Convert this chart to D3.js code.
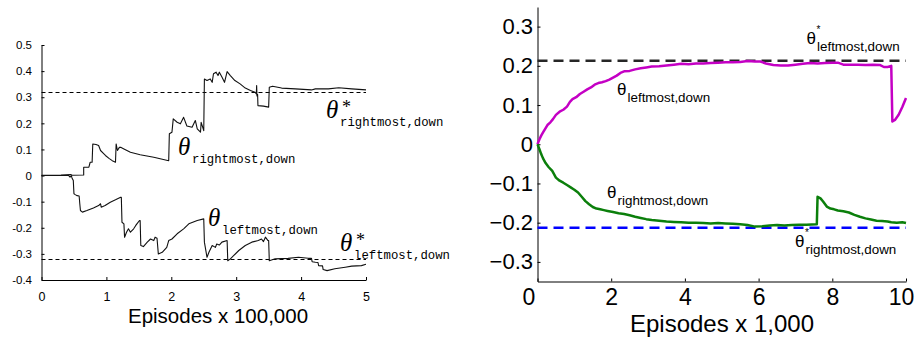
<!DOCTYPE html>
<html>
<head>
<meta charset="utf-8">
<script src="https://cdn.jsdelivr.net/npm/d3@7"></script>
<style>
  html, body { margin: 0; padding: 0; background: #fff; }
  svg { display: block; }
</style>
</head>
<body>
<script>
// ---- Left panel: parameter traces over 500,000 episodes (x in units of 100,000) ----
const leftXTicks = [0, 1, 2, 3, 4, 5];
const leftXLabels = ["0", "1", "2", "3", "4", "5"];
const leftYTicks = [-0.4, -0.3, -0.2, -0.1, 0, 0.1, 0.2, 0.3, 0.4, 0.5];
const leftYLabels = ["-0.4", "-0.3", "-0.2", "-0.1", "0", "0.1", "0.2", "0.3", "0.4", "0.5"];
const leftOptimal = [0.32, -0.32]; // theta* rightmost, theta* leftmost

const leftRightmost = [
  [0,0.001],[0.3,0.002],[0.45,0.004],[0.47,0.001],[0.65,0.002],[0.65,0.032],[0.73,0.032],
  [0.75,0.051],[0.78,0.051],[0.79,0.121],[0.84,0.119],[0.88,0.115],[0.91,0.096],[0.95,0.086],
  [0.985,0.077],[1.04,0.066],[1.09,0.057],[1.14,0.051],[1.15,0.121],[1.17,0.096],[1.2,0.108],
  [1.22,0.108],[1.27,0.102],[1.37,0.089],[1.52,0.08],[1.73,0.07],[1.96,0.057],[1.97,0.16],
  [2.01,0.166],[2.03,0.217],[2.09,0.204],[2.14,0.198],[2.19,0.223],[2.24,0.19],[2.32,0.185],
  [2.37,0.211],[2.4,0.179],[2.45,0.166],[2.46,0.204],[2.5,0.172],[2.51,0.37],[2.55,0.364],
  [2.6,0.37],[2.63,0.357],[2.65,0.39],[2.69,0.396],[2.72,0.383],[2.74,0.396],[2.78,0.377],
  [2.82,0.357],[2.86,0.398],[2.91,0.383],[2.98,0.364],[3.06,0.351],[3.14,0.335],[3.22,0.326],
  [3.29,0.319],[3.31,0.313],[3.315,0.345],[3.32,0.305],[3.33,0.31],[3.335,0.268],[3.42,0.266],
  [3.5,0.262],[3.51,0.338],[3.56,0.342],[3.7,0.335],[3.91,0.332],[4.16,0.328],[4.22,0.332],
  [4.42,0.332],[4.58,0.336],[4.78,0.332],[5.0,0.328]
];

const leftLeftmost = [
  [0,0],[0.42,0],[0.44,-0.006],[0.46,0],[0.47,-0.009],[0.49,-0.019],[0.5,-0.07],[0.52,-0.073],
  [0.55,-0.077],[0.58,-0.078],[0.59,-0.108],[0.6,-0.134],[0.63,-0.14],[0.7,-0.134],[0.8,-0.124],
  [0.88,-0.115],[0.91,-0.108],[0.92,-0.121],[0.98,-0.115],[1.06,-0.102],[1.14,-0.093],
  [1.22,-0.083],[1.23,-0.083],[1.24,-0.179],[1.27,-0.185],[1.28,-0.236],[1.31,-0.217],
  [1.34,-0.204],[1.37,-0.217],[1.42,-0.204],[1.45,-0.192],[1.47,-0.185],[1.51,-0.172],
  [1.52,-0.172],[1.53,-0.268],[1.57,-0.272],[1.63,-0.255],[1.68,-0.243],[1.73,-0.249],
  [1.75,-0.236],[1.78,-0.24],[1.8,-0.3],[1.86,-0.294],[1.93,-0.275],[1.96,-0.249],[2.01,-0.243],
  [2.09,-0.223],[2.19,-0.204],[2.27,-0.185],[2.4,-0.172],[2.5,-0.166],[2.51,-0.255],[2.55,-0.313],
  [2.58,-0.294],[2.63,-0.268],[2.68,-0.275],[2.7,-0.262],[2.74,-0.266],[2.78,-0.255],[2.86,-0.249],
  [2.87,-0.326],[2.91,-0.319],[2.96,-0.307],[3.04,-0.287],[3.14,-0.268],[3.24,-0.255],[3.34,-0.249],
  [3.39,-0.243],[3.42,-0.253],[3.45,-0.236],[3.49,-0.249],[3.5,-0.249],[3.51,-0.326],[3.6,-0.319],
  [3.8,-0.317],[3.96,-0.313],[4.11,-0.317],[4.16,-0.317],[4.17,-0.33],[4.22,-0.332],[4.26,-0.333],
  [4.27,-0.345],[4.33,-0.346],[4.34,-0.36],[4.4,-0.364],[4.52,-0.357],[4.68,-0.351],[4.78,-0.347],
  [4.93,-0.345],[5.0,-0.34]
];

// ---- Right panel: parameter traces over 10,000 episodes (x in units of 1,000) ----
const rightXTicks = [0, 2, 4, 6, 8, 10];
const rightXLabels = ["0", "2", "4", "6", "8", "10"];
const rightYTicks = [-0.3, -0.2, -0.1, 0, 0.1, 0.2, 0.3];
const rightYLabels = ["\u22120.3", "\u22120.2", "\u22120.1", "0", "0.1", "0.2", "0.3"];
const rightOptimal = [0.213, -0.213]; // theta* leftmost (black), theta* rightmost (blue)

const rightLeftmost = [
  [0,0],[0.05,0.012],[0.1,0.022],[0.15,0.03],[0.2,0.038],[0.27,0.049],[0.35,0.056],[0.42,0.064],
  [0.5,0.075],[0.6,0.083],[0.7,0.088],[0.8,0.096],[0.88,0.108],[0.95,0.115],[1.05,0.12],
  [1.15,0.128],[1.25,0.134],[1.35,0.14],[1.45,0.145],[1.55,0.152],[1.65,0.156],[1.75,0.158],
  [1.85,0.161],[1.95,0.165],[2.05,0.17],[2.15,0.175],[2.25,0.182],[2.35,0.186],[2.5,0.187],
  [2.65,0.191],[2.8,0.194],[2.95,0.196],[3.1,0.198],[3.3,0.199],[3.5,0.201],[3.7,0.203],
  [3.9,0.205],[4.1,0.204],[4.3,0.206],[4.5,0.206],[4.7,0.207],[4.9,0.208],[5.1,0.209],
  [5.3,0.209],[5.5,0.21],[5.7,0.212],[5.9,0.211],[6.05,0.211],[6.2,0.206],[6.4,0.202],
  [6.6,0.201],[6.8,0.201],[7.0,0.203],[7.2,0.205],[7.4,0.207],[7.6,0.206],[7.8,0.207],
  [8.0,0.208],[8.15,0.208],[8.3,0.203],[8.5,0.203],[8.7,0.203],[8.9,0.202],[9.1,0.203],
  [9.3,0.202],[9.4,0.197],[9.5,0.197],[9.6,0.2],[9.63,0.058],[9.7,0.062],[9.8,0.075],
  [9.9,0.095],[10,0.118]
];

const rightRightmost = [
  [0,0],[0.05,-0.012],[0.1,-0.025],[0.15,-0.036],[0.22,-0.048],[0.3,-0.058],[0.4,-0.068],
  [0.5,-0.085],[0.6,-0.093],[0.7,-0.098],[0.8,-0.104],[0.9,-0.11],[1.0,-0.116],[1.1,-0.123],
  [1.2,-0.134],[1.3,-0.145],[1.4,-0.153],[1.5,-0.16],[1.6,-0.164],[1.7,-0.166],[1.8,-0.168],
  [1.9,-0.17],[2.05,-0.173],[2.2,-0.176],[2.35,-0.178],[2.5,-0.181],[2.65,-0.185],[2.8,-0.188],
  [2.95,-0.191],[3.1,-0.193],[3.3,-0.195],[3.5,-0.197],[3.7,-0.198],[3.9,-0.199],[4.1,-0.2],
  [4.3,-0.2],[4.5,-0.201],[4.7,-0.202],[4.9,-0.201],[5.1,-0.202],[5.3,-0.203],[5.5,-0.204],
  [5.7,-0.206],[5.9,-0.21],[6.1,-0.209],[6.3,-0.207],[6.5,-0.206],[6.7,-0.207],[6.9,-0.206],
  [7.1,-0.205],[7.3,-0.205],[7.58,-0.204],[7.6,-0.134],[7.68,-0.138],[7.75,-0.146],[7.85,-0.159],
  [7.95,-0.164],[8.05,-0.166],[8.15,-0.169],[8.3,-0.171],[8.45,-0.174],[8.6,-0.18],[8.75,-0.185],
  [8.9,-0.189],[9.05,-0.192],[9.2,-0.195],[9.35,-0.196],[9.5,-0.197],[9.6,-0.199],[9.75,-0.2],
  [9.9,-0.199],[10,-0.201]
];

const svg = d3.select("body").append("svg")
  .attr("width", 923).attr("height", 339);

const SANS = '"Liberation Sans", Arial, Helvetica, sans-serif';
const SERIF = '"Liberation Serif", "Times New Roman", serif';
const MONO = '"Liberation Mono", "Courier New", monospace';

// snap a 1px horizontal rule onto the pixel grid
const crisp = v => Math.round(v) + 0.5;

function styleAxis(g, fontSize) {
  g.select(".domain").attr("stroke", "#000").attr("stroke-width", 1);
  g.selectAll(".tick line").attr("stroke", "#000").attr("stroke-width", 1);
  g.selectAll(".tick text").attr("fill", "#000")
    .style("font-family", SANS).style("font-size", fontSize + "px");
}

// ================= Left panel =================
const xL = d3.scaleLinear().domain([0, 5]).range([41.5, 366]);
const yL = d3.scaleLinear().domain([-0.4, 0.5]).range([280, 45]);
const left = svg.append("g");

left.append("g")
  .attr("transform", `translate(0,${yL(-0.4)})`)
  .call(d3.axisBottom(xL).tickValues(leftXTicks)
    .tickFormat((d, i) => leftXLabels[i])
    .tickSize(-3).tickSizeOuter(0).tickPadding(12))
  .call(g => styleAxis(g, 12.5));

left.append("g")
  .attr("transform", `translate(${xL(0)},0)`)
  .call(d3.axisLeft(yL).tickValues(leftYTicks)
    .tickFormat((d, i) => leftYLabels[i])
    .tickSize(-3).tickSizeOuter(0).tickPadding(9.5))
  .call(g => styleAxis(g, 11.5));

left.selectAll("line.opt")
  .data(leftOptimal).join("line")
  .attr("class", "opt")
  .attr("x1", xL(0)).attr("x2", xL(5))
  .attr("y1", d => crisp(yL(d))).attr("y2", d => crisp(yL(d)))
  .attr("stroke", "#000").attr("stroke-width", 1)
  .attr("stroke-dasharray", "4,3");

const lineL = d3.line().x(d => xL(d[0])).y(d => yL(d[1]));
[leftRightmost, leftLeftmost].forEach(series => {
  left.append("path").datum(series)
    .attr("d", lineL).attr("fill", "none")
    .attr("stroke", "#111").attr("stroke-width", 1.1)
    .attr("stroke-linejoin", "round");
});

left.append("text").attr("x", 218).attr("y", 323)
  .attr("text-anchor", "middle")
  .style("font-family", SANS).style("font-size", "20.5px")
  .text("Episodes x 100,000");

// theta labels with subscripts (and optional star)
function thetaLabel(g, x, y, sub, star, opts) {
  g.append("text").attr("x", x).attr("y", y)
    .style("font-family", opts.thetaFont).style("font-style", opts.italic ? "italic" : "normal")
    .style("font-size", opts.thetaSize + "px").text("\u03b8");
  if (star) {
    g.append("text").attr("x", x + opts.starDx).attr("y", y + opts.starDy)
      .style("font-family", opts.starFont).style("font-size", opts.starSize + "px").text("*");
  }
  g.append("text").attr("x", x + opts.subDx).attr("y", y + opts.subDy)
    .style("font-family", opts.subFont).style("font-size", opts.subSize + "px").text(sub);
}

const leftLabelOpts = {
  thetaFont: SERIF, italic: true, thetaSize: 25,
  starFont: SERIF, starSize: 18, starDx: 16, starDy: -5,
  subFont: MONO, subSize: 12.3, subDx: 14, subDy: 8
};
thetaLabel(left, 178, 155, "rightmost,down", false, leftLabelOpts);
thetaLabel(left, 208, 226, "leftmost,down", false, leftLabelOpts);
thetaLabel(left, 326, 118, "rightmost,down", true, leftLabelOpts);
thetaLabel(left, 340, 251, "leftmost,down", true, leftLabelOpts);

// ================= Right panel =================
const xR = d3.scaleLinear().domain([0, 10]).range([537.5, 906]);
const yR = d3.scaleLinear().domain([-0.35, 0.35]).range([281.5, 7]);
const right = svg.append("g");

// the end labels "0" and "10" sit a little left of their ticks
const rightXLabelShift = { "0": -9, "10": -5 };
right.append("g")
  .attr("transform", `translate(0,${yR(-0.35)})`)
  .call(d3.axisBottom(xR).tickValues(rightXTicks)
    .tickFormat((d, i) => rightXLabels[i])
    .tickSize(-3).tickSizeOuter(0).tickPadding(7.5))
  .call(g => styleAxis(g, 23))
  .call(g => g.selectAll(".tick text")
    .attr("dx", function () { return rightXLabelShift[this.textContent] || 0; }));

right.append("g")
  .attr("transform", `translate(${xR(0)},0)`)
  .call(d3.axisLeft(yR).tickValues(rightYTicks)
    .tickFormat((d, i) => rightYLabels[i])
    .tickSize(-3).tickSizeOuter(0).tickPadding(4.5))
  .call(g => styleAxis(g, 22));

const optColors = ["#262626", "#0000ff"];
right.selectAll("line.opt")
  .data(rightOptimal).join("line")
  .attr("class", "opt")
  .attr("x1", xR(0)).attr("x2", xR(10))
  .attr("y1", d => yR(d)).attr("y2", d => yR(d))
  .attr("stroke", (d, i) => optColors[i]).attr("stroke-width", 2.5)
  .attr("stroke-dasharray", "10,6");

const lineR = d3.line().x(d => xR(d[0])).y(d => yR(d[1]));
right.append("path").datum(rightLeftmost)
  .attr("d", lineR).attr("fill", "none")
  .attr("stroke", "#c400c4").attr("stroke-width", 2.5).attr("stroke-linejoin", "round");
right.append("path").datum(rightRightmost)
  .attr("d", lineR).attr("fill", "none")
  .attr("stroke", "#0b7f0b").attr("stroke-width", 2.5).attr("stroke-linejoin", "round");

right.append("text").attr("x", 722).attr("y", 332)
  .attr("text-anchor", "middle")
  .style("font-family", SANS).style("font-size", "24px")
  .text("Episodes x 1,000");

const rightLabelOpts = {
  thetaFont: SANS, italic: false, thetaSize: 17,
  starFont: SANS, starSize: 10, starDx: 10, starDy: -11,
  subFont: SANS, subSize: 13.4, subDx: 10.5, subDy: 7
};
thetaLabel(right, 617, 95, "leftmost,down", false, rightLabelOpts);
thetaLabel(right, 607, 198, "rightmost,down", false, rightLabelOpts);
thetaLabel(right, 806.5, 44, "leftmost,down", true, rightLabelOpts);
thetaLabel(right, 795, 247, "rightmost,down", true, rightLabelOpts);
</script>
</body>
</html>
